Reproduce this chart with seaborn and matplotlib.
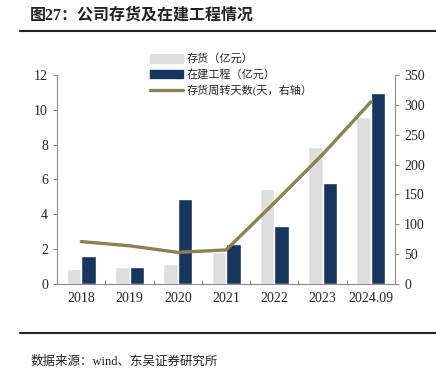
import numpy as np
import pandas as pd
import seaborn as sns
import matplotlib.pyplot as plt
from matplotlib.lines import Line2D

sns.set_style('white')
plt.rcParams['font.family'] = ['Liberation Serif', 'Noto Sans CJK SC']

#%% data
years     = ['2018', '2019', '2020', '2021', '2022', '2023', '2024.09']
inventory = [0.86, 0.99, 1.16, 1.85, 5.46, 7.88, 9.60]    # 存货(亿元)
cip       = [1.58, 0.97, 4.87, 2.27, 3.32, 5.82, 10.94]   # 在建工程(亿元)
days      = [71, 64, 53, 57, 136, 217, 305]               # 存货周转天数(天)

lab_inv  = '存货（亿元）'
lab_cip  = '在建工程（亿元）'
lab_days = '存货周转天数(天，右轴）'

clr_inv, clr_cip, clr_line = '#dedede', '#17365d', '#8c8150'
clr_spine = '#8c8c8c'

df_bar = pd.DataFrame({'year': years * 2,
                       'value': inventory + cip,
                       'series': [lab_inv] * len(years) + [lab_cip] * len(years)})
df_line = pd.DataFrame({'year': years, 'days': days})

#%% plot
fig = plt.figure(figsize=(4.36, 3.75), dpi=100)
ax = fig.add_axes([0.131, 0.2427, 0.775, 0.5573])

sns.barplot(data=df_bar, x='year', y='value', hue='series', order=years,
            palette=[clr_inv, clr_cip], width=0.6, gap=0, ax=ax, legend=False,
            saturation=1)
ax.set_xlim(-0.5, len(years) - 0.5)
ax.set_ylim(0, 12)
ax.set_yticks(np.arange(0, 13, 2))
ax.set_xlabel('')
ax.set_ylabel('')

ax2 = ax.twinx()
sns.lineplot(data=df_line, x='year', y='days', color=clr_line, lw=2.4, ax=ax2,
             legend=False)
ax2.set_ylim(0, 350)
ax2.set_yticks(np.arange(0, 351, 50))
ax2.set_ylabel('')
ax2.set_xlim(-0.5, len(years) - 0.5)

# x ticks: labels at centres, small inward marks between categories
ax.set_xticks(np.arange(len(years)) + 0.5)
ax.set_xticklabels([])
ax.set_xticks(np.arange(len(years)), minor=True)
ax.set_xticklabels(years, minor=True)
ax.tick_params(axis='x', which='major', direction='in', length=3, color=clr_spine, bottom=True)
ax.tick_params(axis='x', which='minor', length=0, labelsize=10, pad=6)
ax.tick_params(axis='y', direction='out', length=3, color=clr_spine, left=True, labelsize=10)
ax2.tick_params(axis='y', direction='out', length=3, color=clr_spine, right=True, labelsize=10)

for a in (ax, ax2):
    a.spines['top'].set_visible(False)
    for s in ('left', 'right', 'bottom'):
        a.spines[s].set_color(clr_spine)
        a.spines[s].set_linewidth(0.8)
ax.spines['right'].set_visible(False)
ax2.spines['left'].set_visible(False)
ax2.spines['bottom'].set_visible(False)

# legend
handles = [plt.Rectangle((0, 0), 1, 1, color=clr_inv),
           plt.Rectangle((0, 0), 1, 1, color=clr_cip),
           Line2D([0], [0], color=clr_line, lw=2.4)]
fig.legend(handles, [lab_inv, lab_cip, lab_days], loc='upper left',
           bbox_to_anchor=(0.344, 0.857), frameon=False, fontsize=8,
           handlelength=3.0, handleheight=0.75, labelspacing=0.4,
           handletextpad=0.3, borderaxespad=0, borderpad=0)

# title, rules, source
fig.text(0.069, 0.958, '图27：公司存货及在建工程情况', fontsize=11.5, fontweight='bold',
         va='center', ha='left', color='#222222')
fig.add_artist(Line2D([0.046, 1.0], [0.917, 0.917], color='#222222', lw=1.5))
fig.add_artist(Line2D([0.046, 1.0], [0.112, 0.112], color='#222222', lw=1.5))
fig.text(0.069, 0.035, '数据来源：wind、东吴证券研究所', fontsize=9,
         va='center', ha='left', color='#222222')

fig.savefig('out.png', dpi=100)
